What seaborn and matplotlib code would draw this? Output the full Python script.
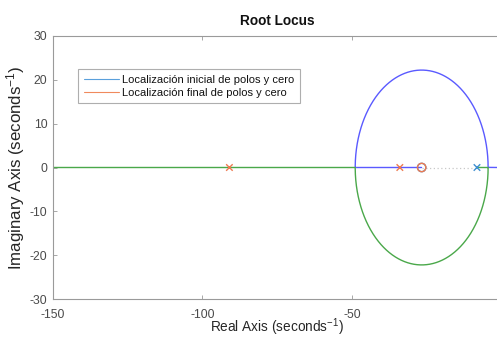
import numpy as np
import pandas as pd
import matplotlib
matplotlib.use("Agg")
import matplotlib.pyplot as plt
import seaborn as sns
from matplotlib.lines import Line2D

# Open-loop system: poles, zero, and the closed-loop poles at the chosen gain
open_poles = [0.0, -8.2]
open_zeros = [-26.7]
closed_poles = [-91.0, -34.0]

x_ticks = [-150, -100, -50]
y_ticks = [-30, -20, -10, 0, 10, 20, 30]
legend_labels = ["Localización inicial de polos y cero",
                 "Localización final de polos y cero"]

sns.set_theme(style="white")
plt.rcParams["font.family"] = ["Liberation Sans", "DejaVu Sans"]
plt.rcParams["mathtext.fontset"] = "custom"
plt.rcParams["mathtext.rm"] = "Liberation Sans"
plt.rcParams["mathtext.it"] = "Liberation Sans"
plt.rcParams["axes.unicode_minus"] = False

# Root locus of (s - p1)(s - p2) + K (s - z) = 0 by sweeping the gain
p1, p2 = open_poles
z = open_zeros[0]
den = np.poly(open_poles)
num = np.poly(open_zeros)
rad = np.sqrt((z - p1) * (z - p2))
k_break = [-(s - p1) * (s - p2) / (s - z) for s in (z + rad, z - rad)]
gains = [np.array([0.0]), np.logspace(-4, 4, 6000)]
for kb in k_break:
    gains.append(kb * (1 + np.concatenate([-np.logspace(-9, -1, 400), [0.0], np.logspace(-9, -1, 400)])))
gains = np.unique(np.concatenate(gains))

upper, lower = [], []
for k in gains:
    poly = np.polyadd(den, k * num)
    r = np.roots(poly)
    r = sorted(r, key=lambda c: (round(c.imag, 9), c.real), reverse=True)
    upper.append(r[0])
    lower.append(r[1])
upper = np.array(upper)
lower = np.array(lower)

branches = pd.concat([
    pd.DataFrame({"re": upper.real, "im": upper.imag, "rama": "a"}),
    pd.DataFrame({"re": lower.real, "im": lower.imag, "rama": "b"}),
])

fig = plt.figure(figsize=(4.97, 3.38), dpi=100)
ax = fig.add_axes([53 / 497, 39 / 338, 448.5 / 497, 263 / 338])

sns.lineplot(data=branches, x="re", y="im", hue="rama", sort=False,
             palette={"a": "#5a5aff", "b": "#4aa84a"}, linewidth=1.0,
             legend=False, ax=ax, estimator=None)

# Non-locus segment between the zero and the second pole
ax.plot([z, p2], [0, 0], linestyle=(0, (1, 2)), color="#c8c8c8", linewidth=0.9, zorder=1)

pts = pd.DataFrame({
    "re": open_poles + closed_poles,
    "im": [0.0] * 4,
    "tipo": ["ini", "ini", "fin", "fin"],
})
sns.scatterplot(data=pts, x="re", y="im", hue="tipo", marker="x",
                palette={"ini": "#3f8fd0", "fin": "#ee7a50"}, s=22,
                linewidth=1.0, legend=False, ax=ax, zorder=4)
ax.scatter(open_zeros, [0.0], s=36, facecolors="none", edgecolors="#3f8fd0",
           linewidths=1.0, zorder=4)
ax.scatter(open_zeros, [0.0], s=36, facecolors="none", edgecolors="#ee7a50",
           linewidths=1.0, zorder=5)

ax.set_xlim(-150, 0)
ax.set_ylim(-30, 30)
ax.set_xticks(x_ticks)
ax.set_yticks(y_ticks)
ax.tick_params(direction="in", length=3, width=0.6, color="#9a9a9a",
               labelsize=8.8, labelcolor="#4a4a4a", top=True, right=True,
               bottom=True, left=True)
ax.tick_params(axis="x", pad=7)
ax.tick_params(axis="y", pad=4)
for sp in ax.spines.values():
    sp.set_color("#9a9a9a")
    sp.set_linewidth(0.8)
    sp.set_visible(True)

ax.set_xlabel(r"Real Axis (seconds$^{-1}$)", fontsize=9.8, color="#262626", labelpad=-3)
ax.set_ylabel(r"Imaginary Axis (seconds$^{-1}$)", fontsize=12.2, color="#262626")
ax.yaxis.set_label_coords((27 - 53) / 448.5, 0.5)
ax.set_title("Root Locus", fontsize=9.8, fontweight="bold", color="#111111", pad=8)

handles = [Line2D([0], [0], color="#5aa0dc", linewidth=0.8),
           Line2D([0], [0], color="#f08a5d", linewidth=0.8)]
leg = ax.legend(handles, legend_labels, loc="upper left",
                bbox_to_anchor=((78 - 53) / 448.5, (299 - 69) / 263),
                fontsize=8.0, frameon=True, fancybox=False, handlelength=3.2,
                handletextpad=0.3, borderpad=0.5, labelspacing=0.3,
                borderaxespad=0)
leg.get_frame().set_edgecolor("#9a9a9a")
leg.get_frame().set_linewidth(0.8)
for t in leg.get_texts():
    t.set_color("#111111")

fig.savefig("out.png", dpi=100)
